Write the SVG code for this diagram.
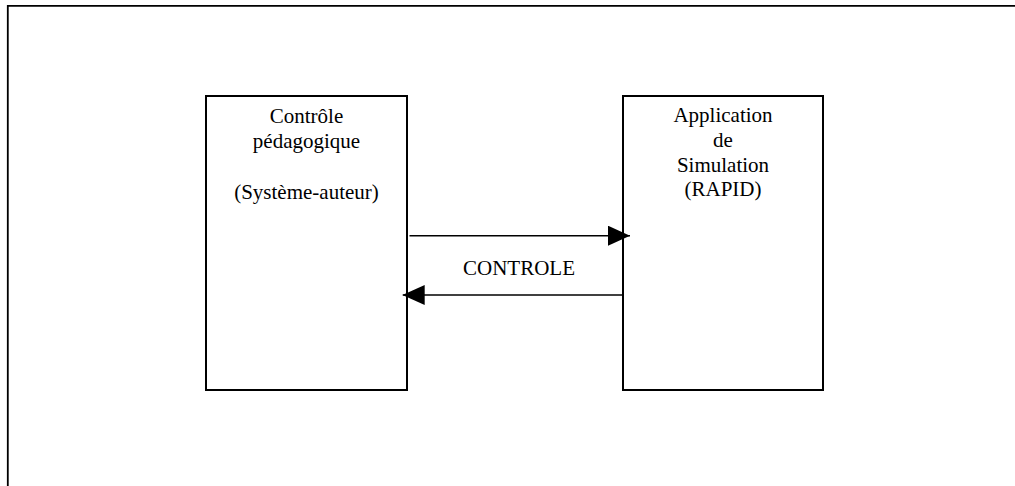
<svg xmlns="http://www.w3.org/2000/svg" width="1015" height="486" viewBox="0 0 1015 486">
<style>
.t{font-family:"Liberation Serif","Times New Roman",serif;font-size:21px;fill:#000;text-anchor:middle}
.box{fill:#fff;stroke:#000;stroke-width:2}
.c{stroke:#000;stroke-width:1.6;fill:none}
</style>
<defs>
<marker id="ah" markerWidth="22" markerHeight="20" refX="22" refY="10" orient="auto" markerUnits="userSpaceOnUse">
<path d="M0,0 L22,10 L0,20 Z" fill="#000"/>
</marker>
</defs>
<rect width="1015" height="486" fill="#fff"/>
<path d="M7.8,486 V5.8 H1015" fill="none" stroke="#000" stroke-width="1.8"/>
<g id="node-controle">
<rect class="box" x="206" y="96" width="201" height="294"/>
<text class="t" x="306.5" y="122.7">Contrôle</text>
<text class="t" x="306.5" y="148">pédagogique</text>
<text class="t" x="306.5" y="199">(Système-auteur)</text>
</g>
<g id="node-application">
<rect class="box" x="623" y="96" width="200" height="294"/>
<text class="t" x="723" y="121.7">Application</text>
<text class="t" x="723" y="146.7">de</text>
<text class="t" x="723" y="171.7">Simulation</text>
<text class="t" x="723" y="196.2">(RAPID)</text>
</g>
<g id="connectors">
<line class="c" x1="409.5" y1="235.7" x2="630" y2="235.7" marker-end="url(#ah)"/>
<line class="c" x1="622.5" y1="295" x2="402.7" y2="295" marker-end="url(#ah)"/>
<text class="t" x="519" y="275">CONTROLE</text>
</g>
</svg>
